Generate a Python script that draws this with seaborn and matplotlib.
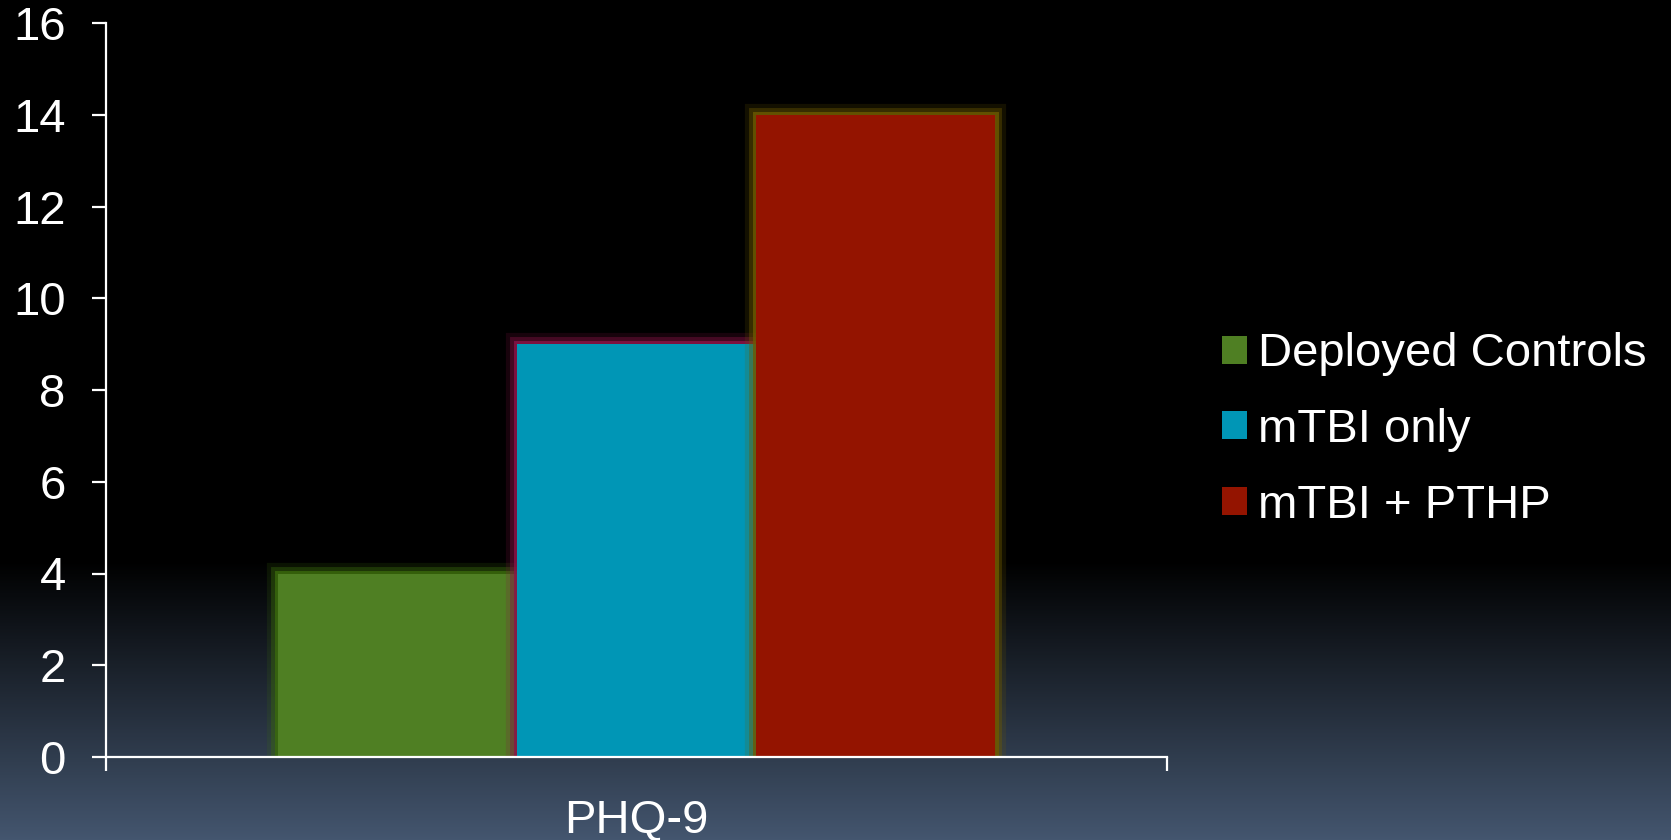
import numpy as np
import pandas as pd
import seaborn as sns
import matplotlib
matplotlib.use("Agg")
import matplotlib.pyplot as plt
from matplotlib.colors import LinearSegmentedColormap
import matplotlib.patheffects as pe

# Data
measures = ["PHQ-9"]
groups = ["Deployed Controls", "mTBI only", "mTBI + PTHP"]
scores = [4, 9, 14]
y_ticks = [0, 2, 4, 6, 8, 10, 12, 14, 16]

bar_colors = ["#4F7F23", "#0096B6", "#941400"]
glow_colors = ["#3A6A0C", "#8A1448", "#6E5A00"]

df = pd.DataFrame({"measure": measures * len(groups), "group": groups, "score": scores})

sns.set_theme(style="white")
plt.rcParams["font.family"] = ["Liberation Sans", "DejaVu Sans"]

fig = plt.figure(figsize=(16.71, 8.4), dpi=100)

# Background: black fading into slate blue toward the bottom
bg = fig.add_axes([0, 0, 1, 1], zorder=-10)
bg.set_axis_off()
h = 840
start = 560
t = np.clip((np.arange(h) - start) / (h - start), 0, 1)
cmap = LinearSegmentedColormap.from_list("bgfade", ["#000000", "#44566F"], N=256)
bg.imshow(t[:, None] * np.ones((1, 4)), cmap=cmap, aspect="auto", extent=[0, 1, 0, 1],
          vmin=0, vmax=1, origin="upper")
bg.set_xlim(0, 1)
bg.set_ylim(0, 1)

ax = fig.add_axes([106 / 1671, 1 - 757 / 840, (1167 - 106) / 1671, (757 - 23) / 840])
ax.set_facecolor("none")

sns.barplot(data=df, x="measure", y="score", hue="group", palette=bar_colors,
            width=0.675, gap=0, saturation=1, ax=ax, legend=False, linewidth=0)

# soft coloured halo around each bar
for patch, glow in zip(ax.patches, glow_colors):
    patch.set_path_effects([
        pe.Stroke(linewidth=16, foreground=glow, alpha=0.18),
        pe.Stroke(linewidth=10, foreground=glow, alpha=0.4),
        pe.Stroke(linewidth=5, foreground=glow, alpha=0.8),
        pe.Normal(),
    ])

ax.set_xlim(-0.5, 0.5)
ax.set_ylim(0, 16)
ax.set_yticks(y_ticks)
ax.set_yticklabels([str(v) for v in y_ticks])
ax.set_xlabel("")
ax.set_ylabel("")

for side in ["top", "right"]:
    ax.spines[side].set_visible(False)
for side in ["left", "bottom"]:
    ax.spines[side].set_color("white")
    ax.spines[side].set_linewidth(1.6)

ax.tick_params(axis="y", which="major", direction="out", length=10, width=1.6,
               color="white", labelcolor="white", labelsize=34, pad=19, left=True)
ax.tick_params(axis="x", which="major", length=0, labelcolor="white", labelsize=34, pad=30)
ax.set_xticks([-0.5, 0.5], minor=True)
ax.tick_params(axis="x", which="minor", direction="out", length=10, width=1.6,
               color="white", bottom=True)

handles = [plt.Rectangle((0, 0), 1, 1, facecolor=c, edgecolor="none") for c in bar_colors]
leg = fig.legend(handles, groups, loc="center left", bbox_to_anchor=(1222 / 1671, 1 - 430 / 840),
                 frameon=False, fontsize=34, labelcolor="white", handlelength=0.53,
                 handleheight=0.53, handletextpad=0.24, labelspacing=0.67,
                 borderpad=0, borderaxespad=0)

fig.savefig("out.png", dpi=100, facecolor="black")
